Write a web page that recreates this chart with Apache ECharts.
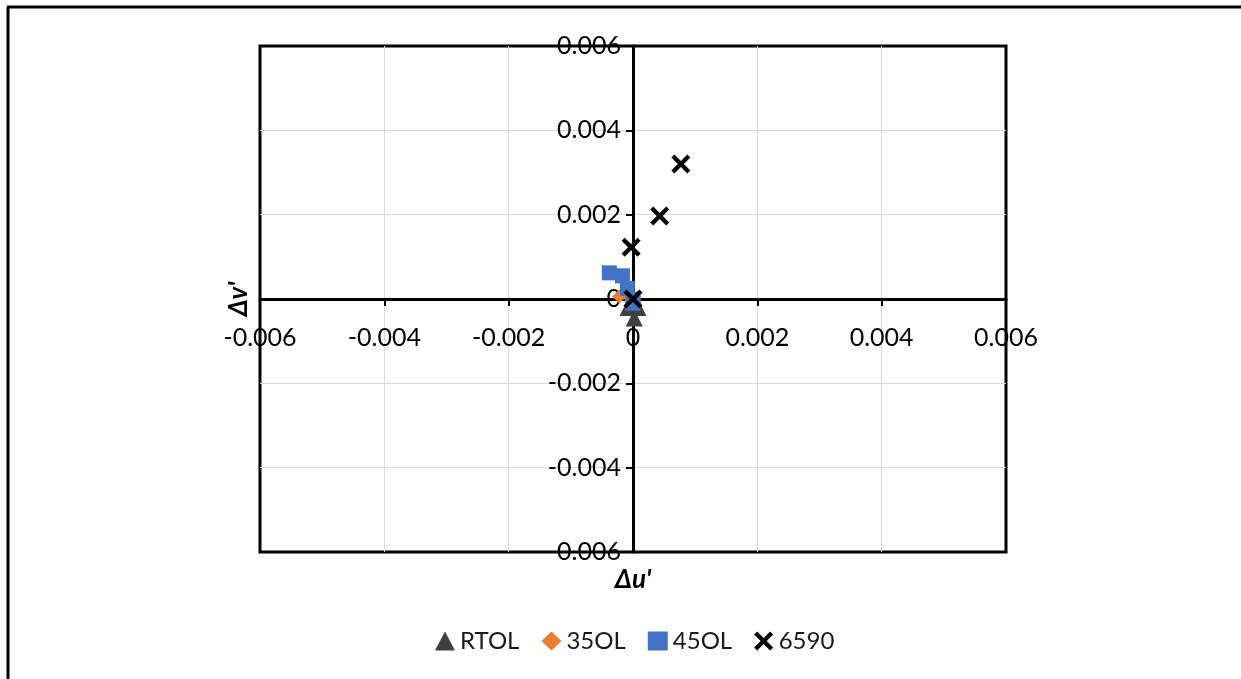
<!DOCTYPE html>
<html>
<head>
<meta charset="utf-8">
<script src="https://cdn.jsdelivr.net/npm/echarts@6/dist/echarts.min.js"></script>
<style>
html,body{margin:0;padding:0;background:#fff;}
#chart{width:1241px;height:679px;}
</style>
</head>
<body>
<div id="chart"></div>
<script>
// Data: [Δu', Δv']
const rtol = [[-0.00008, -0.0002], [0.00008, -0.0002], [0.00002, -0.00045], [0, 0]];
const ol35 = [[-0.00022, 0.00006], [-0.0001, 0.0001], [0, 0]];
const ol45 = [[-0.00038, 0.00062], [-0.00017, 0.00055], [-0.00009, 0.00025], [0, -0.0001], [0, 0]];
const s6590 = [[0.00077, 0.0032], [0.00043, 0.00197], [-0.00003, 0.00123], [0, 0]];
const seriesNames = ['RTOL', '35OL', '45OL', '6590'];
const axisMin = -0.006, axisMax = 0.006, axisStep = 0.002;

const FONT = 'Lato, "Open Sans", sans-serif';
const crossPath = 'path://M0,1.6L1.6,0L5,3.4L8.4,0L10,1.6L6.6,5L10,8.4L8.4,10L5,6.6L1.6,10L0,8.4L3.4,5Z';
const fmt = v => Math.abs(v) < 1e-12 ? '0' : v.toFixed(3);

// grid layout (pixels)
const G = {left: 260, right: 235, top: 46, bottom: 127};
const W = 1241, H = 679;
const plotW = W - G.left - G.right, plotH = H - G.top - G.bottom;
// place axes where the value 0 sits
const zeroFracX = (0 - axisMin) / (axisMax - axisMin);
const zeroFracY = (0 - axisMin) / (axisMax - axisMin);
const xAxisOffset = -plotH * zeroFracY;
const yAxisOffset = -plotW * zeroFracX;

const chart = echarts.init(document.getElementById('chart'), null, {renderer: 'canvas'});
const axisCommon = {
  type: 'value', min: axisMin, max: axisMax, interval: axisStep,
  axisLine: {onZero: false, lineStyle: {color: '#000', width: 3}},
  axisTick: {show: true, length: 7, lineStyle: {color: '#000', width: 2}},
  splitLine: {show: true, showMinLine: false, showMaxLine: false, lineStyle: {color: '#d9d9d9', width: 1}},
  nameLocation: 'middle',
  nameTextStyle: {fontSize: 26, fontWeight: 'bold', fontStyle: 'italic', color: '#000', fontFamily: FONT}
};
const labelCommon = {formatter: fmt, color: '#000', fontSize: 25, fontFamily: FONT, showMinLabel: true, showMaxLabel: true};
const emph = {disabled: true};
chart.setOption({
  backgroundColor: '#fff',
  animation: false,
  grid: Object.assign({show: true, borderColor: '#000', borderWidth: 3, containLabel: false, outerBoundsMode: 'none'}, G),
  xAxis: Object.assign({}, axisCommon, {position: 'bottom', offset: xAxisOffset, name: "Δu'", nameGap: 268,
    axisLabel: Object.assign({}, labelCommon, {margin: 26})}),
  yAxis: Object.assign({}, axisCommon, {position: 'left', offset: yAxisOffset, name: "Δv'", nameGap: 381,
    axisLabel: Object.assign({}, labelCommon, {margin: 12})}),
  legend: {
    bottom: 21, left: 430, itemGap: 22, itemWidth: 20, itemHeight: 19,
    textStyle: {fontSize: 24, color: '#1a1a1a', fontFamily: FONT},
    data: [
      {name: seriesNames[0], icon: 'triangle'},
      {name: seriesNames[1], icon: 'diamond'},
      {name: seriesNames[2], icon: 'rect'},
      {name: seriesNames[3], icon: crossPath}
    ]
  },
  graphic: [
    {type: 'line', shape: {x1: 8, y1: 7, x2: 8, y2: 679}, style: {stroke: '#000', lineWidth: 3}},
    {type: 'line', shape: {x1: 7, y1: 7, x2: 1241, y2: 7}, style: {stroke: '#000', lineWidth: 3}}
  ],
  series: [
    {name: seriesNames[0], type: 'scatter', data: rtol, symbol: 'triangle', symbolSize: 17, itemStyle: {color: '#404040', opacity: 1}, emphasis: emph},
    {name: seriesNames[1], type: 'scatter', data: ol35, symbol: 'diamond', symbolSize: 14, itemStyle: {color: '#ED7D31', opacity: 1}, emphasis: emph},
    {name: seriesNames[2], type: 'scatter', data: ol45, symbol: 'rect', symbolSize: 15, itemStyle: {color: '#4472C4', opacity: 1}, emphasis: emph},
    {name: seriesNames[3], type: 'scatter', data: s6590, symbol: crossPath, symbolSize: 19, itemStyle: {color: '#000', opacity: 1}, emphasis: emph}
  ]
});
</script>
</body>
</html>
